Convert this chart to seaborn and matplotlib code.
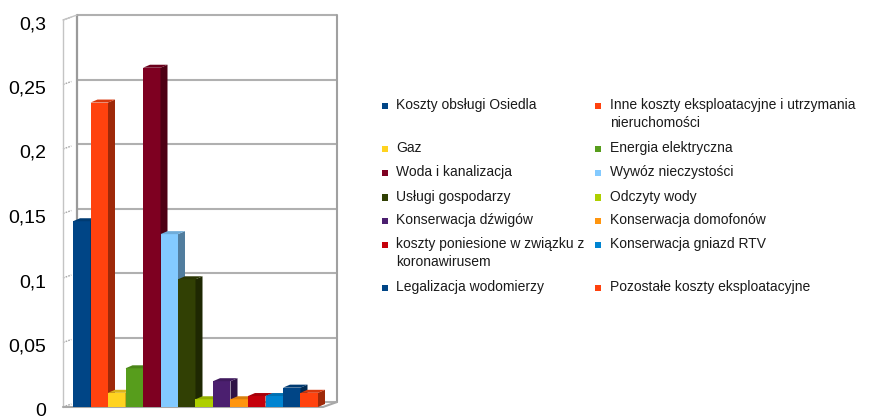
import matplotlib
matplotlib.use("Agg")
import matplotlib.pyplot as plt
import matplotlib.colors as mcolors
from matplotlib.patches import Polygon
from matplotlib.transforms import ScaledTranslation
import seaborn as sns
import pandas as pd

# Cost categories (legend labels, in bar order)
categories = [
    "Koszty obsługi Osiedla",
    "Inne koszty eksploatacyjne i utrzymania\nnieruchomości",
    "Gaz",
    "Energia elektryczna",
    "Woda i kanalizacja",
    "Wywóz nieczystości",
    "Usługi gospodarzy",
    "Odczyty wody",
    "Konserwacja dźwigów",
    "Konserwacja domofonów",
    "koszty poniesione w związku z\nkoronawirusem",
    "Konserwacja gniazd RTV",
    "Legalizacja wodomierzy",
    "Pozostałe koszty eksploatacyjne",
]
values = [0.144, 0.236, 0.011, 0.030, 0.263, 0.134, 0.099,
          0.006, 0.020, 0.006, 0.0085, 0.0085, 0.015, 0.011]
colors = ["#004586", "#ff420e", "#ffd320", "#579d1c", "#7e0021", "#83caff",
          "#314004", "#aecf00", "#4b1f6f", "#ff950e", "#c5000b", "#0084d1",
          "#004586", "#ff420e"]
yticks = [0, 0.05, 0.1, 0.15, 0.2, 0.25, 0.3]
ytick_labels = ["0", "0,05", "0,1", "0,15", "0,2", "0,25", "0,3"]

sns.set_theme(style="white")
plt.rcParams["font.family"] = ["Liberation Sans", "DejaVu Sans"]

W, H = 870, 416
fig = plt.figure(figsize=(W / 100, H / 100), dpi=100)
fig.patch.set_facecolor("white")

# front plane of the plot box, in pixels
left_px, right_px, bottom_px, top_px = 63, 323, 407, 20
ax = fig.add_axes([left_px / W, (H - bottom_px) / H,
                   (right_px - left_px) / W, (bottom_px - top_px) / H])
ax.set_facecolor("none")
for s in ax.spines.values():
    s.set_visible(False)

df = pd.DataFrame({"kategoria": categories, "udzial": values})
sns.barplot(data=df, x="kategoria", y="udzial", hue="kategoria",
            palette=colors, order=categories, hue_order=categories,
            width=1.0, saturation=1, legend=False, ax=ax,
            edgecolor="none", linewidth=0)

px_per_unit = 17.5
xl = -0.5 - 10 / px_per_unit
xr = xl + (right_px - left_px) / px_per_unit
ax.set_xlim(xl, xr)
ax.set_ylim(0, 0.3)
ax.set_xlabel("")
ax.set_ylabel("")
ax.set_xticks([])

ypx = 0.3 / (bottom_px - top_px)  # data units per pixel on y

# wall depth and bar depth offsets
wdx, wdy = 14 / px_per_unit, 5 * ypx
bdx, bdy = 7 / px_per_unit, 3 * ypx

grid_c = "#b0b0b0"
# back wall gridlines, left wall rungs and box edges
for v in yticks:
    ax.plot([xl + wdx, xr + wdx], [v + wdy, v + wdy], color=grid_c, lw=1.5,
            clip_on=False, zorder=0.5, solid_capstyle="butt")
    ax.plot([xl, xl + 0.6 * wdx], [v, v + 0.6 * wdy], color="#a8a8a8", lw=1.0,
            ls=(0, (1.2, 0.8)), clip_on=False, zorder=0.5)
ax.plot([xl + wdx, xl + wdx], [wdy, 0.3 + wdy], color="#9a9a9a", lw=1.6,
        clip_on=False, zorder=0.5)
ax.plot([xr + wdx, xr + wdx], [wdy, 0.3 + wdy], color="#a0a0a0", lw=1.5,
        clip_on=False, zorder=0.5)
ax.plot([xl, xl], [0, 0.3], color="#c4c4c4", lw=1.0, clip_on=False, zorder=0.5)
ax.plot([xl, xl + wdx], [0.3, 0.3 + wdy], color="#c4c4c4", lw=1.0,
        clip_on=False, zorder=0.5)
# floor edges
ax.plot([xl, xr, xr + wdx], [0, 0, wdy], color="#a8a8a8", lw=1.5,
        clip_on=False, zorder=0.6)


def shade(c, f):
    r, g, b = mcolors.to_rgb(c)
    return (r * f, g * f, b * f)


# give each bar a top and side face
for i, patch in enumerate(ax.patches):
    x0 = patch.get_x()
    w = patch.get_width()
    h = patch.get_height()
    x1 = x0 + w
    z = 2 + i * 0.01
    patch.set_zorder(z)
    base = colors[i]
    side = Polygon([(x1, 0), (x1 + bdx, bdy), (x1 + bdx, h + bdy), (x1, h)],
                   closed=True, facecolor=shade(base, 0.62), edgecolor="none",
                   zorder=z, clip_on=False)
    top = Polygon([(x0, h), (x0 + bdx, h + bdy), (x1 + bdx, h + bdy), (x1, h)],
                  closed=True, facecolor=shade(base, 0.85), edgecolor="none",
                  zorder=z, clip_on=False)
    ax.add_patch(side)
    ax.add_patch(top)

# y tick labels with comma decimals
ax.set_yticks(yticks)
ax.set_yticklabels(ytick_labels, fontsize=14, color="black")
ax.tick_params(axis="y", length=0, pad=12)
shift = ScaledTranslation(0, -2.5 / 100, fig.dpi_scale_trans)
for lab in ax.get_yticklabels():
    lab.set_transform(lab.get_transform() + shift)

# two-column legend, rows aligned across columns
rows_y = [105, 148, 172, 197, 220, 244, 287]
col_sq = [382, 595]
col_tx = [396, 610]
for idx, (name, col) in enumerate(zip(categories, colors)):
    r, c = divmod(idx, 2)
    y = rows_y[r]
    fig.patches.append(plt.Rectangle((col_sq[c] / W, (H - y - 4) / H),
                                     6.5 / W, 6.5 / H, transform=fig.transFigure,
                                     facecolor=col, edgecolor="none"))
    fig.text(col_tx[c] / W, (H - y + 7) / H, name, fontsize=10,
             ha="left", va="top", color="#1a1a1a", linespacing=1.35)

fig.savefig("out.png", dpi=100, facecolor="white")
